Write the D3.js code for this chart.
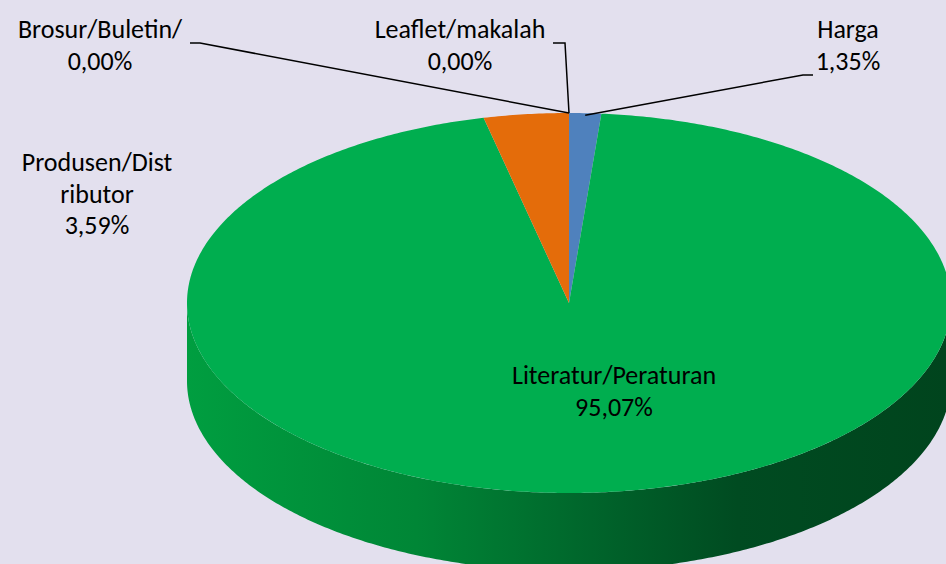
<!DOCTYPE html>
<html>
<head>
<meta charset="utf-8">
<script src="https://cdn.jsdelivr.net/npm/d3@7"></script>
<style>
  html, body { margin: 0; padding: 0; background: #e3e0ee; }
  svg { display: block; }
  text { font-family: Carlito, Calibri, Lato, "Open Sans", sans-serif; font-size: 26px; fill: #000; }
</style>
</head>
<body>
<svg id="chart" width="946" height="564"></svg>
<script>
// data
var categories = ['Harga', 'Literatur/Peraturan', 'Produsen/Distributor', 'Brosur/Buletin/', 'Leaflet/makalah'];
var values = [1.35, 95.07, 3.59, 0.00, 0.00];
var labelLines = [['Harga'], ['Literatur/Peraturan'], ['Produsen/Dist', 'ributor'], ['Brosur/Buletin/'], ['Leaflet/makalah']];
var colors = ['#4f81bd', '#00ae4f', '#e46c0a', '#8064a2', '#4bacc6'];

// layout
var width = 946, height = 564;
var cx = 569, cy = 303, rx = 382, ry = 190, depth = 78;
// label anchor (centre x, first line baseline) and leader lines, per slice
var labelPos = [
  { x: 848, y: 38, leader: [[813, 75], [803, 75]] },
  { x: 614, y: 384, leader: null },
  { x: 97, y: 171, leader: null },
  { x: 100, y: 38, leader: [[190, 43], [200, 43]] },
  { x: 460, y: 38, leader: [[553, 43], [565, 43]] }
];

var svg = d3.select('#chart');

var defs = svg.append('defs');
var sideGrad = defs.append('linearGradient')
  .attr('id', 'sideGrad').attr('gradientUnits', 'userSpaceOnUse')
  .attr('x1', cx - rx).attr('x2', cx + rx).attr('y1', 0).attr('y2', 0);
sideGrad.append('stop').attr('offset', '0%').attr('stop-color', '#009e40');
sideGrad.append('stop').attr('offset', '30%').attr('stop-color', '#008636');
sideGrad.append('stop').attr('offset', '55%').attr('stop-color', '#00622a');
sideGrad.append('stop').attr('offset', '72%').attr('stop-color', '#004b21');
sideGrad.append('stop').attr('offset', '100%').attr('stop-color', '#00441d');

var pie = d3.pie().sort(null).value(d => d).startAngle(0).endAngle(2 * Math.PI);
var arcs = pie(values);

// projected point on the ellipse, angle measured clockwise from 12 o'clock
function pt(a, dy){
  return [cx + rx * Math.sin(a), cy - ry * Math.cos(a) + (dy || 0)];
}
function arcPoints(a0, a1, dy){
  var n = Math.max(2, Math.ceil((a1 - a0) / 0.01));
  var pts = [];
  for(var i = 0; i <= n; i++) pts.push(pt(a0 + (a1 - a0) * i / n, dy));
  return pts;
}
var line = d3.line();

// side walls (only the front half, pi/2 .. 3pi/2, is visible)
var sideG = svg.append('g');
arcs.forEach(function(d, i){
  var a0 = Math.max(d.startAngle, Math.PI / 2), a1 = Math.min(d.endAngle, 3 * Math.PI / 2);
  if(a1 <= a0) return;
  var top = arcPoints(a0, a1, 0);
  var bot = arcPoints(a0, a1, depth).reverse();
  sideG.append('path')
    .attr('d', line(top.concat(bot)) + 'Z')
    .attr('fill', i === 1 ? 'url(#sideGrad)' : d3.color(colors[i]).darker(1));
});

// top faces
var topG = svg.append('g');
arcs.forEach(function(d, i){
  if(d.endAngle - d.startAngle <= 0) return;
  var pts = [[cx, cy]].concat(arcPoints(d.startAngle, d.endAngle, 0));
  topG.append('path')
    .attr('d', line(pts) + 'Z')
    .attr('fill', colors[i]);
});

// leader lines
var leadG = svg.append('g');
arcs.forEach(function(d, i){
  var lp = labelPos[i];
  if(!lp.leader) return;
  var mid = (d.startAngle + d.endAngle) / 2;
  var p = pt(mid, 0);
  if(d.endAngle - d.startAngle > 0) p[1] += 2;
  var pts = lp.leader.concat([p]);
  leadG.append('path')
    .attr('d', line(pts))
    .attr('fill', 'none').attr('stroke', '#000').attr('stroke-width', 1.5);
});

// labels
var labG = svg.append('g');
arcs.forEach(function(d, i){
  var lp = labelPos[i];
  var lines = labelLines[i].concat([d3.format('.2f')(values[i]).replace('.', ',') + '%']);
  var t = labG.append('text').attr('text-anchor', 'middle');
  lines.forEach(function(s, k){
    t.append('tspan').attr('x', lp.x).attr('y', lp.y + k * 31.5).text(s);
  });
});
</script>
</body>
</html>
